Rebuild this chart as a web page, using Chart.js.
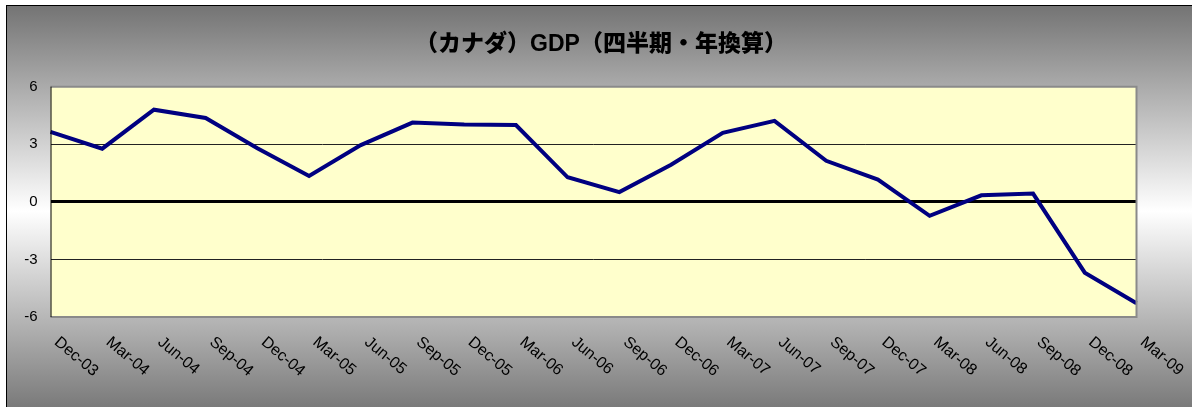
<!DOCTYPE html>
<html>
<head>
<meta charset="utf-8">
<script src="https://cdn.jsdelivr.net/npm/chart.js@4/dist/chart.umd.min.js"></script>
<style>
  html, body { margin: 0; padding: 0; overflow: hidden; width: 1192px; height: 407px; background: #fff; }
  #frame {
    position: absolute; left: 6px; top: 5px; width: 1190px; height: 410px;
    border: 1px solid #000;
    background: linear-gradient(to bottom, #747474 0%, #ffffff 50%, #747474 100%);
  }
  #gdpChart { position: absolute; left: 0; top: 0; }
</style>
</head>
<body>
<div id="frame"></div>
<canvas id="gdpChart" width="1192" height="407"></canvas>
<script>
// quarters on the x axis
var quarters = ['Dec-03', 'Mar-04', 'Jun-04', 'Sep-04', 'Dec-04', 'Mar-05', 'Jun-05', 'Sep-05',
  'Dec-05', 'Mar-06', 'Jun-06', 'Sep-06', 'Dec-06', 'Mar-07', 'Jun-07', 'Sep-07',
  'Dec-07', 'Mar-08', 'Jun-08', 'Sep-08', 'Dec-08', 'Mar-09'];
// GDP, quarterly, annualized (%)
var gdp = [3.65, 2.77, 4.8, 4.37, 2.79, 1.35, 2.96, 4.13,
  4.03, 4.0, 1.28, 0.51, 1.93, 3.6, 4.22, 2.14,
  1.16, -0.73, 0.34, 0.43, -3.69, -5.28];
var yTicks = [-6, -3, 0, 3, 6];
var chartTitle = '（カナダ）GDP（四半期・年換算）';

// yellow plot area + gray frame
var plotBg = {
  id: 'plotBg',
  beforeDraw: function (chart) {
    var a = chart.chartArea, ctx = chart.ctx;
    ctx.save();
    ctx.fillStyle = '#ffffcc';
    ctx.fillRect(a.left, a.top, a.right - a.left, a.bottom - a.top);
    ctx.restore();
  },
  afterDatasetsDraw: function (chart) {
    var a = chart.chartArea, ctx = chart.ctx;
    ctx.save();
    ctx.strokeStyle = '#8a8a8a';
    ctx.lineWidth = 2;
    ctx.beginPath();
    ctx.moveTo(a.left, a.top);
    ctx.lineTo(a.right, a.top);
    ctx.lineTo(a.right, a.bottom);
    ctx.lineTo(a.left, a.bottom);
    ctx.stroke();
    ctx.strokeStyle = '#000';
    ctx.lineWidth = 1;
    ctx.beginPath();
    ctx.moveTo(a.left + 0.5, a.top);
    ctx.lineTo(a.left + 0.5, a.bottom);
    ctx.stroke();
    ctx.restore();
  }
};

// title (centred on the whole frame) and x labels slanted down to the right
var textLayer = {
  id: 'textLayer',
  afterDraw: function (chart) {
    var xs = chart.scales.x, ctx = chart.ctx;
    ctx.save();
    ctx.fillStyle = '#000';
    ctx.font = '900 23px "Liberation Sans", "Noto Sans CJK JP", sans-serif';
    ctx.textAlign = 'center';
    ctx.textBaseline = 'middle';
    ctx.fillText(chartTitle, 601, 45);

    ctx.font = '16px "Liberation Sans", Arial, sans-serif';
    ctx.textAlign = 'left';
    ctx.textBaseline = 'top';
    quarters.forEach(function (q, i) {
      var x = xs.getPixelForValue(i);
      ctx.save();
      ctx.translate(x + 11, 334);
      ctx.rotate(40 * Math.PI / 180);
      ctx.fillText(q, 0, 0);
      ctx.restore();
    });
    ctx.restore();
  }
};

var ctx = document.getElementById('gdpChart');
var gdpChart = new Chart(ctx, {
  type: 'line',
  data: {
    labels: quarters,
    datasets: [{
      label: 'GDP',
      data: gdp,
      borderColor: '#000080',
      borderWidth: 4,
      pointRadius: 0,
      tension: 0,
      fill: false
    }]
  },
  options: {
    responsive: false,
    animation: false,
    layout: { padding: { left: 10, right: 55.5, top: 86.7, bottom: 0 } },
    plugins: {
      legend: { display: false },
      tooltip: { enabled: false },
      title: { display: false }
    },
    scales: {
      x: {
        offset: false,
        grid: { display: false, drawTicks: false },
        border: { display: false },
        ticks: { display: false },
        afterFit: function (s) { s.height = 90; }
      },
      y: {
        min: yTicks[0],
        max: yTicks[yTicks.length - 1],
        afterBuildTicks: function (s) { s.ticks = yTicks.map(function (v) { return { value: v }; }); },
        afterFit: function (s) { s.width = 40.5; },
        border: { display: false },
        grid: {
          drawTicks: false,
          color: function (c) {
            if (c.tick.value === 0) return '#000';
            if (c.tick.value === yTicks[0] || c.tick.value === yTicks[yTicks.length - 1]) return 'rgba(0,0,0,0)';
            return '#222';
          },
          lineWidth: function (c) { return c.tick.value === 0 ? 3 : 1; }
        },
        ticks: {
          color: '#000',
          padding: 13,
          font: { family: '"Liberation Sans", Arial, sans-serif', size: 15 }
        }
      }
    }
  },
  plugins: [plotBg, textLayer]
});
</script>
</body>
</html>
